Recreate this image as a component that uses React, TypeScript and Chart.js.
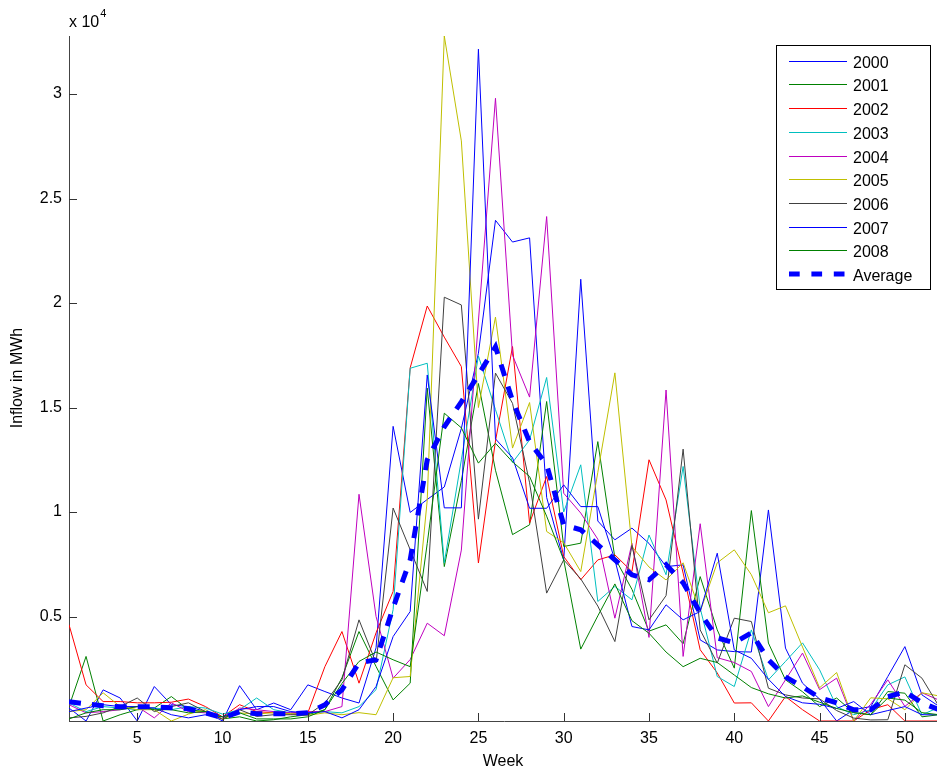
import React, { useEffect, useRef } from "react";
import { Chart, registerables } from "chart.js";

Chart.register(...registerables);

const weeks = [1,2,3,4,5,6,7,8,9,10,11,12,13,14,15,16,17,18,19,20,21,22,23,24,25,26,27,28,29,30,31,32,33,34,35,36,37,38,39,40,41,42,43,44,45,46,47,48,49,50,51,52];
const xTicks = [5, 10, 15, 20, 25, 30, 35, 40, 45, 50];
const yTicks = [5000, 10000, 15000, 20000, 25000, 30000];

const y2000 = [620,0,1490,1100,0,1650,780,690,450,0, 1690,540,860,540,1730,1410,1100,860,3500,14100, 9980,10600,11200,14000,17600,23960,22920,23120,10700,7700, 21140,9570,8670,9230,8500,7390,7470,3880,3400,3320, 3300,10100,3490,1810,1050,0,540,690,2130,3560, 1250,700];
const y2001 = [690,3090,0,300,540,620,1170,540,450,100, 200,0,60,200,300,540,2070,4280,2610,1010, 1810,15930,7390,11500,16150,12000,8920,9390,15290,8350, 8510,13370,7800,6300,4300,4600,3700,6910,4360,2530, 10070,3730,1970,1400,690,1100,400,300,1410,1330, 200,300];
const y2002 = [4610,1730,930,930,870,870,900,1050,690,200, 780,450,390,330,390,2600,4280,1810,4220,6200, 16900,19860,18370,16960,7560,13400,17920,9470,11700,7870, 6760,7710,7950,7150,12500,10580,7080,3410,2300,860, 870,0,1170,540,0,0,0,540,780,0, 0,0];
const y2003 = [860,450,690,620,540,620,540,690,620,330, 540,1100,540,390,390,450,390,690,1500,5330, 16880,17120,7570,12500,17470,14900,12370,13450,16440,10000, 12260,5720,6440,5800,8900,7000,12180,5400,2130,1650, 4360,1970,2850,3740,2450,690,300,540,1730,2110, 300,650];
const y2004 = [780,390,450,540,690,150,870,450,390,100, 620,540,450,390,450,450,690,10850,5000,2050, 2940,4680,4080,8180,19140,29800,17500,15500,24140,10900, 9950,8700,4920,8500,4000,15840,3090,9440,3030,2800, 2370,690,1970,3250,1500,2050,0,800,1970,700, 1350,1000];
const y2005 = [450,540,1350,690,540,540,0,330,540,100, 390,330,400,350,270,390,300,400,300,2070, 2130,10570,32780,27760,15000,19330,13060,15240,9070,8530, 7150,11900,16660,8350,7370,6750,7570,5240,7570,8190, 7000,5180,5510,3540,1590,2320,0,1110,1060,540, 1350,1200];
const y2006 = [150,220,390,690,1100,450,690,870,450,80, 540,220,300,300,300,860,1970,4840,2780,10190, 8200,6200,20280,19910,9660,16650,15200,11400,6120,7710, 6800,5500,3800,8400,4840,6000,13010,4360,2770,4920, 4760,1570,1250,1100,1060,500,140,50,60,2690, 2050,700];
const y2007 = [450,620,780,690,690,620,300,150,300,200, 540,690,690,450,390,450,150,540,1650,4040, 5240,16560,10200,10200,32150,13500,12600,10180,10180,11300, 10260,10260,7710,4520,4360,5560,4840,5240,8030,3400, 3000,2000,1170,870,800,600,930,300,500,690, 300,300];
const y2008 = [100,390,540,540,690,540,540,390,450,200, 390,100,100,100,200,540,1800,2850,3300,2930, 2600,8500,14730,14030,12340,13290,12400,11700,9800,7710, 3440,5030,6560,4800,4200,3300,2600,3000,2800,2200, 1600,1300,1100,1200,900,600,400,300,1100,1000, 400,300];
const yAverage = [919,823,727,679,679,679,632,584,392,153, 440,344,344,344,392,775,1493,2785,2928,5416, 7713,12498,14077,15273,16565,17904,15321,13359,12258,9388, 9148,8431,7713,6995,6756,7474,6613,5177,3981,3742, 4220,2928,2115,1636,1110,871,536,536,1158,1397, 871,536];

const seriesLabels = ["2000", "2001", "2002", "2003", "2004", "2005", "2006", "2007", "2008"];
const seriesValues = [y2000, y2001, y2002, y2003, y2004, y2005, y2006, y2007, y2008];
const seriesColors = ["#0000ff", "#008000", "#ff0000", "#00bfbf", "#bf00bf", "#bfbf00", "#404040", "#0000ff", "#008000"];
const averageLabel = "Average";
const averageColor = "#0000ff";

const FONT = "'Liberation Sans', Arial, Helvetica, sans-serif";
const CW = 942;
const CH = 774;

const decor = {
  id: "decor",
  afterDraw(chart: any) {
    const ctx = chart.ctx as CanvasRenderingContext2D;
    const area = chart.chartArea;
    const xs = chart.scales.x;
    const ys = chart.scales.y;
    ctx.save();
    // inward tick marks
    ctx.strokeStyle = "#333";
    ctx.lineWidth = 1;
    ctx.beginPath();
    for (const t of xTicks) {
      const px = Math.round(xs.getPixelForValue(t)) + 0.5;
      ctx.moveTo(px, area.bottom);
      ctx.lineTo(px, area.bottom - 8);
    }
    for (const t of yTicks) {
      const py = Math.round(ys.getPixelForValue(t)) + 0.5;
      ctx.moveTo(area.left, py);
      ctx.lineTo(area.left + 8, py);
    }
    ctx.stroke();

    ctx.fillStyle = "#000";
    // exponent label
    ctx.font = `16px ${FONT}`;
    ctx.textAlign = "left";
    ctx.textBaseline = "alphabetic";
    ctx.fillText("x 10", 69, 27);
    const w = ctx.measureText("x 10").width;
    ctx.font = `11px ${FONT}`;
    ctx.fillText("4", 69 + w + 1, 17);

    // axis titles
    ctx.font = `16px ${FONT}`;
    ctx.textAlign = "center";
    ctx.textBaseline = "middle";
    ctx.fillText("Week", 503, 762);
    ctx.save();
    ctx.translate(18, 378);
    ctx.rotate(-Math.PI / 2);
    ctx.fillText("Inflow in MWh", 0, 0);
    ctx.restore();

    // legend
    const lx = 776.5, ly = 45.5, lw = 154, lh = 244;
    ctx.fillStyle = "#fff";
    ctx.fillRect(lx, ly, lw, lh);
    ctx.strokeStyle = "#000";
    ctx.lineWidth = 1;
    ctx.strokeRect(lx, ly, lw, lh);
    const labels = [...seriesLabels, averageLabel];
    const colors = [...seriesColors, averageColor];
    ctx.font = `16px ${FONT}`;
    ctx.textAlign = "left";
    ctx.textBaseline = "alphabetic";
    for (let i = 0; i < labels.length; i++) {
      const yLine = 60.7 + i * 23.7;
      const isAvg = i === labels.length - 1;
      ctx.beginPath();
      ctx.strokeStyle = colors[i];
      ctx.lineWidth = isAvg ? 5 : 1;
      ctx.setLineDash(isAvg ? [10.7, 11.7] : []);
      ctx.moveTo(789, Math.round(yLine) + (isAvg ? 0 : 0.5));
      ctx.lineTo(847, Math.round(yLine) + (isAvg ? 0 : 0.5));
      ctx.stroke();
      ctx.setLineDash([]);
      ctx.fillStyle = "#000";
      ctx.fillText(labels[i], 853, 67.7 + i * 23.7);
    }
    ctx.restore();
  },
};

export default function App() {
  const ref = useRef<HTMLCanvasElement>(null);
  useEffect(() => {
    const canvas = ref.current;
    if (!canvas) return;
    const datasets: any[] = [];
    datasets.push({
      label: averageLabel,
      data: weeks.map((w, j) => ({ x: w, y: yAverage[j] })),
      borderColor: averageColor,
      backgroundColor: averageColor,
      borderWidth: 5,
      borderDash: [12, 11],
      borderCapStyle: "butt",
      pointRadius: 0,
      fill: false,
      tension: 0,
      order: 0,
    });
    seriesLabels.forEach((lab, i) => {
      datasets.push({
        label: lab,
        data: weeks.map((w, j) => ({ x: w, y: seriesValues[i][j] })),
        borderColor: seriesColors[i],
        backgroundColor: seriesColors[i],
        borderWidth: 1,
        pointRadius: 0,
        fill: false,
        tension: 0,
        order: 9 - i,
      });
    });
    const chart = new Chart(canvas, {
      type: "line",
      data: { datasets },
      options: {
        animation: false,
        responsive: false,
        devicePixelRatio: 1,
        layout: { padding: { top: 36, left: 0, right: CW - 939, bottom: 0 } },
        plugins: { legend: { display: false }, tooltip: { enabled: false } },
        scales: {
          x: {
            type: "linear",
            min: 1,
            max: 52,
            afterBuildTicks: (s: any) => {
              s.ticks = xTicks.map((v) => ({ value: v }));
            },
            afterFit: (s: any) => {
              s.height = CH - 721;
            },
            grid: { display: false, drawTicks: false },
            border: { display: true, color: "#444", width: 1 },
            ticks: {
              color: "#000",
              font: { family: FONT, size: 16 },
              padding: 8,
              maxRotation: 0,
              autoSkip: false,
              callback: (v: any) => String(v),
            },
          },
          y: {
            type: "linear",
            min: 0,
            max: 32780,
            afterBuildTicks: (s: any) => {
              s.ticks = yTicks.map((v) => ({ value: v }));
            },
            afterFit: (s: any) => {
              s.width = 69;
            },
            grid: { display: false, drawTicks: false },
            border: { display: true, color: "#444", width: 1 },
            ticks: {
              color: "#000",
              font: { family: FONT, size: 16 },
              padding: 7,
              autoSkip: false,
              callback: (v: any) => String(Number(v) / 10000),
            },
          },
        },
      },
      plugins: [decor],
    });
    return () => chart.destroy();
  }, []);
  return (
    <div style={{ position: "fixed", left: 0, top: 0, width: 937, height: 774, overflow: "hidden", background: "#fff" }}>
      <canvas ref={ref} width={CW} height={CH} style={{ display: "block", width: CW, height: CH }} />
    </div>
  );
}
